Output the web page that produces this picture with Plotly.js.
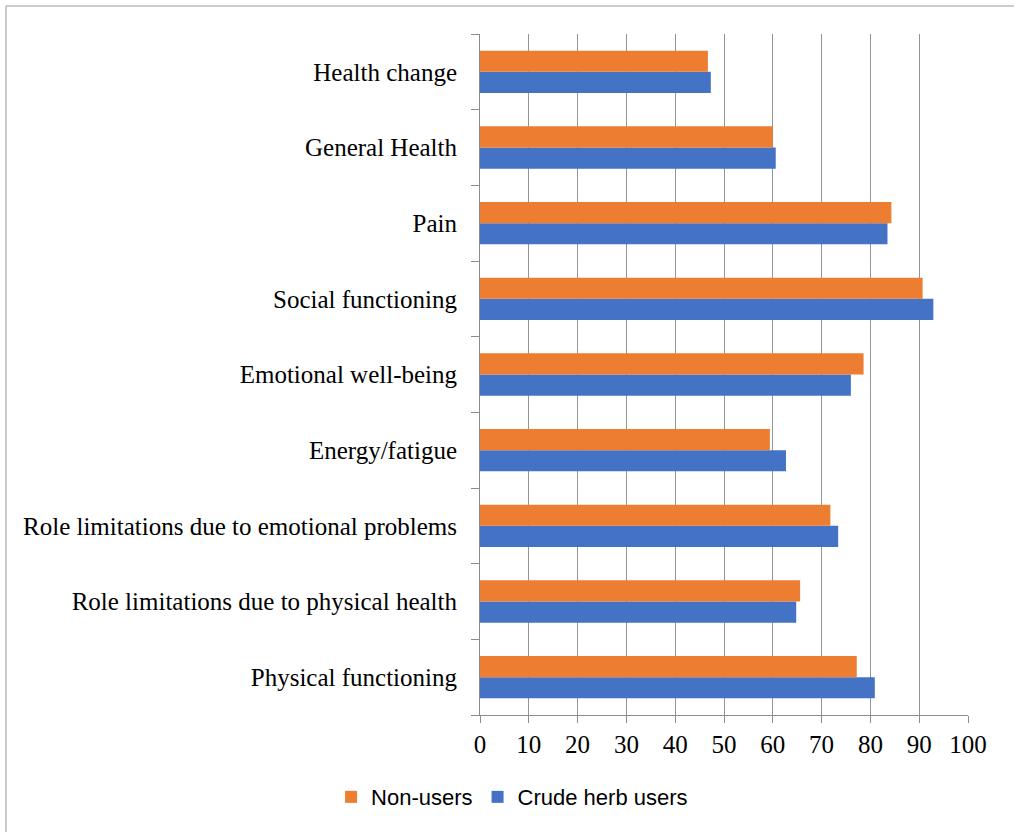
<!DOCTYPE html>
<html>
<head>
<meta charset="utf-8">
<script src="https://cdn.plot.ly/plotly-3.0.1.min.js"></script>
<style>
html,body{margin:0;padding:0;background:#fff;}
#chart{width:1014px;height:832px;}
</style>
</head>
<body>
<div id="chart"></div>
<script>
// Categories listed bottom to top
const categories = [
  "Physical functioning",
  "Role limitations due to physical health",
  "Role limitations due to emotional problems",
  "Energy/fatigue",
  "Emotional well-being",
  "Social functioning",
  "Pain",
  "General Health",
  "Health change"
];
const crudeHerbUsers = [80.9, 64.8, 73.4, 62.7, 76.0, 92.9, 83.5, 60.6, 47.3];
const nonUsers       = [77.2, 65.6, 71.8, 59.4, 78.6, 90.7, 84.3, 60.0, 46.7];
const xTicks = [0, 10, 20, 30, 40, 50, 60, 70, 80, 90, 100];

const traces = [
  {
    type: "bar", orientation: "h", name: "Crude herb users",
    y: categories, x: crudeHerbUsers,
    marker: {color: "#4472C4"}, hoverinfo: "x+y"
  },
  {
    type: "bar", orientation: "h", name: "Non-users",
    y: categories, x: nonUsers,
    marker: {color: "#ED7D31"}, hoverinfo: "x+y"
  }
];

const serif = "Liberation Serif, Times New Roman, serif";
const layout = {
  width: 1014, height: 832,
  margin: {l: 480, r: 46, t: 34, b: 117, pad: 0},
  paper_bgcolor: "#ffffff", plot_bgcolor: "#ffffff",
  barmode: "group", bargap: 0.44, bargroupgap: 0,
  showlegend: true,
  legend: {
    orientation: "h", traceorder: "reversed",
    xref: "container", yref: "container",
    x: 0.505, xanchor: "center", y: 0.042, yanchor: "middle",
    font: {family: "Liberation Sans, Arial, sans-serif", size: 22, color: "#000"},
    itemwidth: 30, itemclick: false
  },
  xaxis: {
    range: [0, 100], tickvals: xTicks, ticktext: xTicks.map(String),
    showgrid: true, gridcolor: "#959595", gridwidth: 1,
    showline: true, linecolor: "#8c8c8c", linewidth: 1,
    ticks: "outside", ticklen: 7, tickcolor: "#8c8c8c",
    zeroline: false, fixedrange: true,
    tickfont: {family: serif, size: 25, color: "#000"}
  },
  yaxis: {
    type: "category", categoryorder: "array", categoryarray: categories,
    showgrid: false, showline: true, linecolor: "#8c8c8c", linewidth: 1,
    ticks: "outside", ticklen: 8, tickcolor: "#8c8c8c", tickson: "boundaries",
    ticklabelstandoff: 17, fixedrange: true,
    tickfont: {family: serif, size: 25, color: "#000"}
  },
  shapes: [
    {type: "line", xref: "paper", yref: "paper",
     x0: (6 - 480) / 488, x1: (1014 - 480) / 488, y0: 1 + (34 - 6) / 681, y1: 1 + (34 - 6) / 681,
     line: {color: "#999999", width: 1}},
    {type: "line", xref: "paper", yref: "paper",
     x0: (6 - 480) / 488, x1: (6 - 480) / 488, y0: 1 + (34 - 6) / 681, y1: -(117 + 5) / 681,
     line: {color: "#999999", width: 1}}
  ]
};

Plotly.newPlot("chart", traces, layout, {displayModeBar: false, staticPlot: false});
</script>
</body>
</html>
